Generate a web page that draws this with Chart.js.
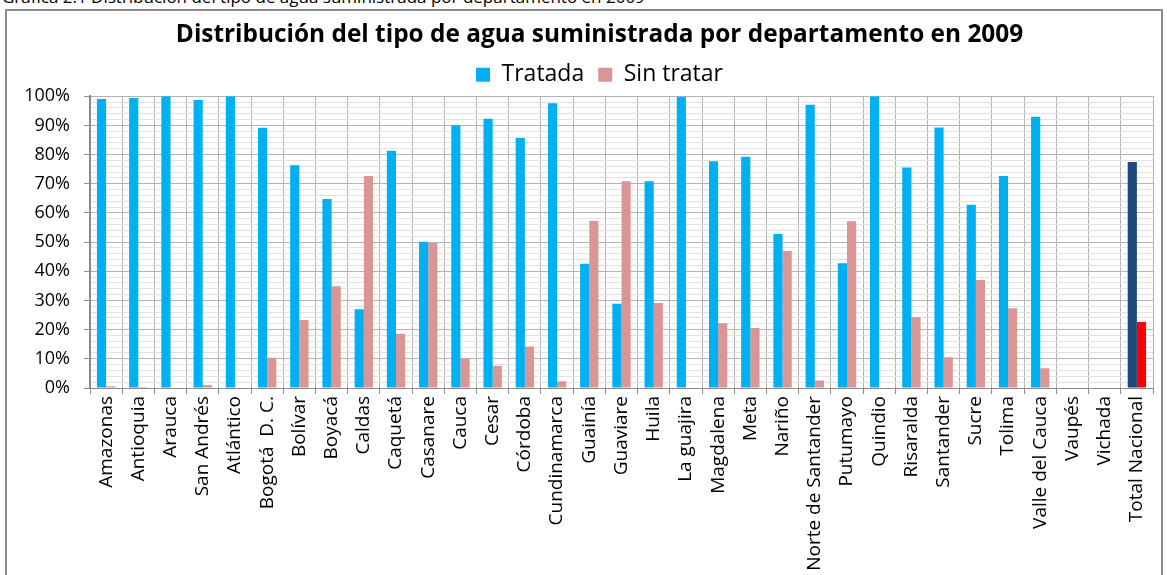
<!DOCTYPE html>
<html>
<head>
<meta charset="utf-8">
<script src="https://cdn.jsdelivr.net/npm/chart.js@4/dist/chart.umd.min.js"></script>
<style>
  html, body { margin: 0; padding: 0; background: #fff; overflow: hidden; }
  body { width: 1167px; height: 575px; position: relative; font-family: "Open Sans", sans-serif; }
  #caption {
    position: absolute; left: 2px; top: -15px; font-size: 17px; color: #000; white-space: nowrap;
  }
  #frame {
    position: absolute; left: 5px; top: 9px; width: 1158px; height: 600px;
    border: 2px solid #8c8c8c; box-sizing: border-box;
  }
  #wrap { position: absolute; left: 0; top: 0; width: 1175px; height: 575px; }
</style>
</head>
<body>
<div id="caption">Gráfica 2.1 Distribución del tipo de agua suministrada por departamento en 2009</div>
<div id="frame"></div>
<div id="wrap"><canvas id="chart" width="1175" height="575"></canvas></div>
<script>
const DEPARTMENTS = [
  "Amazonas", "Antioquia", "Arauca", "San Andrés", "Atlántico", "Bogotá  D. C.",
  "Bolívar", "Boyacá", "Caldas", "Caquetá", "Casanare", "Cauca", "Cesar",
  "Córdoba", "Cundinamarca", "Guainía", "Guaviare", "Huila", "La guajira",
  "Magdalena", "Meta", "Nariño", "Norte de Santander", "Putumayo", "Quindio",
  "Risaralda", "Santander", "Sucre", "Tolima", "Valle del Cauca", "Vaupés",
  "Vichada", "Total Nacional",
];

// share of each water type, 0..1
const TRATADA = [
  0.991, 0.994, 1.0, 0.987, 1.0, 0.892, 0.764, 0.648, 0.270, 0.813, 0.501,
  0.901, 0.923, 0.857, 0.976, 0.426, 0.289, 0.709, 0.998, 0.777, 0.793,
  0.528, 0.971, 0.428, 1.0, 0.756, 0.893, 0.628, 0.727, 0.930, 0, 0, 0.775,
];
const SIN_TRATAR = [
  0.006, 0.003, 0, 0.010, 0, 0.104, 0.233, 0.349, 0.727, 0.186, 0.497,
  0.099, 0.076, 0.142, 0.023, 0.573, 0.709, 0.291, 0, 0.222, 0.206,
  0.470, 0.026, 0.572, 0, 0.243, 0.105, 0.370, 0.273, 0.068, 0, 0, 0.226,
];

const Y_TICK_LABELS = ["0%", "10%", "20%", "30%", "40%", "50%", "60%", "70%", "80%", "90%", "100%"];

const BLUE = "#00b0f0";
const PINK = "#d99694";
const lastIdx = DEPARTMENTS.length - 1;

function colorsFor(base, total) {
  return DEPARTMENTS.map((_, i) => (i === lastIdx ? total : base));
}

const ctx = document.getElementById("chart");
new Chart(ctx, {
  type: "bar",
  data: {
    labels: DEPARTMENTS,
    datasets: [
      {
        label: "Tratada",
        data: TRATADA,
        backgroundColor: colorsFor(BLUE, "#1f497d"),
        categoryPercentage: 0.57,
        barPercentage: 1.0,
      },
      {
        label: "Sin tratar",
        data: SIN_TRATAR,
        backgroundColor: colorsFor(PINK, "#ff0000"),
        categoryPercentage: 0.57,
        barPercentage: 1.0,
      },
    ],
  },
  options: {
    responsive: false,
    animation: false,
    devicePixelRatio: 1,
    layout: { padding: { left: 24, right: 0, top: 0, bottom: 0 } },
    plugins: {
      title: {
        display: true,
        text: "Distribución del tipo de agua suministrada por departamento en 2009",
        color: "#000",
        font: { family: "Open Sans", size: 24.4, weight: "bold" },
        padding: { top: 20, bottom: 0 },
      },
      legend: {
        display: true,
        labels: {
          color: "#000",
          font: { family: "Open Sans", size: 23 },
          boxWidth: 14,
          boxHeight: 14,
          padding: 14,
          generateLabels(chart) {
            return chart.data.datasets.map((ds, i) => ({
              text: ds.label,
              fillStyle: i === 0 ? BLUE : PINK,
              strokeStyle: i === 0 ? BLUE : PINK,
              lineWidth: 0,
              fontColor: "#000",
              datasetIndex: i,
            }));
          },
        },
      },
      tooltip: { enabled: false },
    },
    scales: {
      x: {
        grid: {
          offset: true,
          color: "#b4b4b4",
          tickColor: "#8c8c8c",
          tickLength: 6,
        },
        border: { color: "#8c8c8c", width: 1 },
        ticks: {
          color: "#000",
          font: { family: "Open Sans", size: 19 },
          minRotation: 90,
          maxRotation: 90,
          autoSkip: false,
          padding: 2,
        },
        afterFit(scale) {
          scale.height = 187;
        },
      },
      y: {
        min: 0,
        max: 1,
        grid: {
          color: (c) => (Math.round(c.tick.value * 100) % 10 === 0 ? "#b4b4b4" : "#e2e2e2"),
          tickColor: (c) => (Math.round(c.tick.value * 100) % 10 === 0 ? "#8c8c8c" : "rgba(0,0,0,0)"),
          tickLength: 6,
        },
        border: { color: "#8c8c8c", width: 2 },
        ticks: {
          stepSize: 0.02,
          autoSkip: false,
          color: "#000",
          font: { family: "Open Sans", size: 18 },
          padding: 14,
          callback(value) {
            const pct = Math.round(value * 100);
            return pct % 10 === 0 ? Y_TICK_LABELS[pct / 10] : "";
          },
        },
        afterFit(scale) {
          scale.width = 66;
        },
      },
      // empty right-hand box so the title and legend sit where the original has them
      spacer: {
        type: "linear",
        position: "right",
        grid: { display: false },
        border: { display: false },
        ticks: { display: false },
        afterFit(scale) {
          scale.width = 22;
        },
      },
    },
  },
});
</script>
</body>
</html>
